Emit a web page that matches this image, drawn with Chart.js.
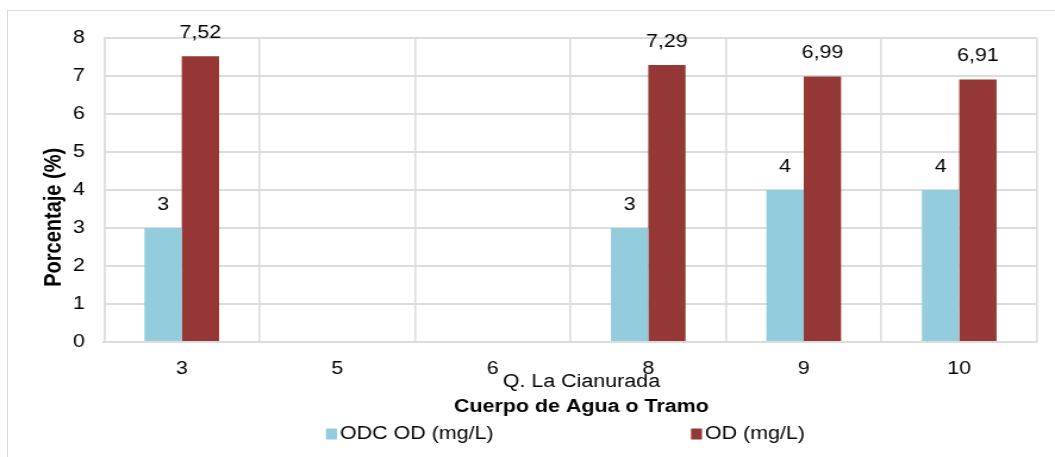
<!DOCTYPE html>
<html>
<head>
<meta charset="utf-8">
<script src="https://cdn.jsdelivr.net/npm/chart.js@4.4.1/dist/chart.umd.min.js"></script>
<style>
  html, body { margin: 0; padding: 0; background: #fff; }
  #wrap { position: relative; width: 1055px; height: 457px; overflow: hidden; }
  #frame { position: absolute; left: 7px; top: 10px; width: 1100px; height: 500px; border-left: 1px solid #d9d9d9; border-top: 1px solid #d9d9d9; box-sizing: border-box; }
  #stretch { position: absolute; left: 0; top: 0; width: 886px; height: 457px; transform-origin: 0 0; transform: scaleX(1.19074); }
  canvas { position: absolute; left: 0; top: 0; }
</style>
</head>
<body>
<div id="wrap">
  <div id="frame"></div>
  <div id="stretch"><canvas id="c" width="886" height="457"></canvas></div>
</div>
<script>
const categories = ['3', '5', '6', '8', '9', '10'];
const odcValues = [3, null, null, 3, 4, 4];
const odValues = [7.52, null, null, 7.29, 6.99, 6.91];
const yTicks = [0, 1, 2, 3, 4, 5, 6, 7, 8];
const seriesNames = ['ODC OD (mg/L)', 'OD (mg/L)'];
const groupLabel = 'Q. La Cianurada';
const xTitle = 'Cuerpo de Agua o Tramo';
const yTitle = 'Porcentaje (%)';

const S = 1055 / 886;
const FONT = "'Liberation Sans', Arial, sans-serif";
const fmt = v => String(v).replace('.', ',');

const extras = {
  id: 'extras',
  afterDatasetsDraw(chart) {
    const ctx = chart.ctx;
    ctx.save();
    ctx.font = '18px ' + FONT;
    ctx.fillStyle = '#000';
    ctx.textAlign = 'center';
    ctx.textBaseline = 'middle';
    chart.data.datasets.forEach((ds, di) => {
      const meta = chart.getDatasetMeta(di);
      meta.data.forEach((bar, i) => {
        const v = ds.data[i];
        if (v === null || v === undefined) return;
        ctx.fillText(fmt(v), bar.x, bar.y - 23);
      });
    });
    ctx.restore();
  },
  afterDraw(chart) {
    const ctx = chart.ctx;
    const ca = chart.chartArea;
    const cx = (ca.left + ca.right) / 2;
    ctx.save();
    ctx.fillStyle = '#000';
    ctx.textAlign = 'center';
    ctx.textBaseline = 'middle';
    ctx.font = '18px ' + FONT;
    ctx.fillText(groupLabel, cx + 11 / S, ca.bottom + 40);
    ctx.font = 'bold 18px ' + FONT;
    ctx.fillText(xTitle, cx + 11 / S, ca.bottom + 65);
    // y title
    ctx.save();
    ctx.font = 'bold 20px ' + FONT;
    ctx.translate(54 / S, ca.top + (ca.bottom - ca.top) * 0.59);
    ctx.rotate(-Math.PI / 2);
    ctx.fillText(yTitle, 0, 0);
    ctx.restore();
    // legend
    const ly = ca.bottom + 92;
    const xs = [cx - 244.5 / S, cx + 120.5 / S];
    ctx.font = '18px ' + FONT;
    ctx.textAlign = 'left';
    chart.data.datasets.forEach((ds, di) => {
      ctx.fillStyle = ds.backgroundColor;
      ctx.fillRect(xs[di], ly - 5.5, 11 / S, 11);
      ctx.fillStyle = '#000';
      ctx.fillText(ds.label, xs[di] + 14 / S, ly);
    });
    ctx.restore();
  }
};

new Chart(document.getElementById('c'), {
  type: 'bar',
  data: {
    labels: categories,
    datasets: [
      { label: seriesNames[0], data: odcValues, backgroundColor: '#93CDDD' },
      { label: seriesNames[1], data: odValues, backgroundColor: '#953735' }
    ]
  },
  options: {
    responsive: false,
    animation: false,
    devicePixelRatio: 1,
    layout: { padding: { left: 0, right: 18 / S, top: 38, bottom: 0 } },
    datasets: { bar: { categoryPercentage: 0.48, barPercentage: 1.0 } },
    plugins: { legend: { display: false }, tooltip: { enabled: false } },
    scales: {
      x: {
        grid: { color: '#dcdcdc', lineWidth: 1.6, drawTicks: false, offset: true },
        border: { color: '#dcdcdc', width: 2 },
        ticks: { color: '#000', font: { family: FONT, size: 18 }, padding: 16 },
        afterFit: s => { s.height = 115; }
      },
      y: {
        min: 0, max: 8,
        afterBuildTicks: s => { s.ticks = yTicks.map(v => ({ value: v })); },
        grid: { color: '#dcdcdc', lineWidth: 2, drawTicks: false },
        border: { color: '#dcdcdc', width: 1.6 },
        ticks: { color: '#000', font: { family: FONT, size: 18 }, padding: 16 },
        afterFit: s => { s.width = 104 / S; }
      }
    }
  },
  plugins: [extras]
});
</script>
</body>
</html>
